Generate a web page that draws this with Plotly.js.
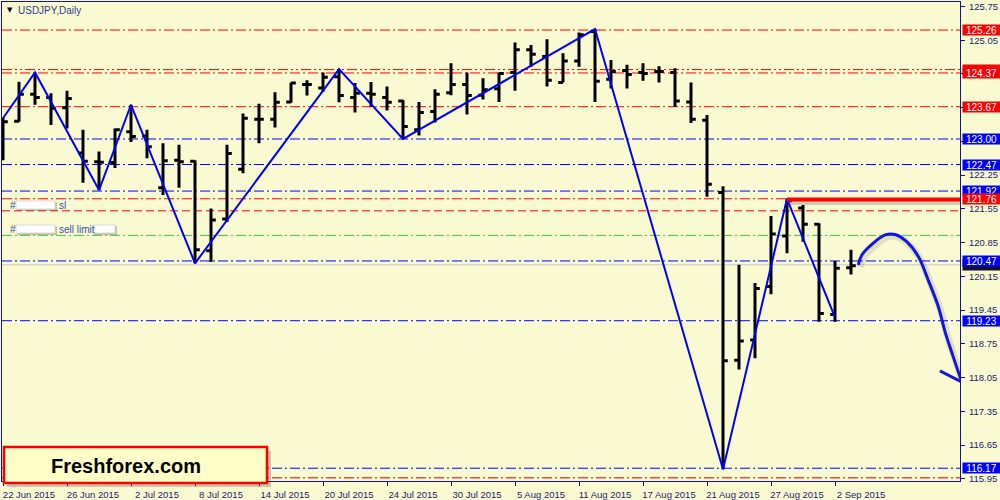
<!DOCTYPE html>
<html><head><meta charset="utf-8">
<script src="https://cdn.plot.ly/plotly-3.0.1.min.js"></script>
<style>html,body{margin:0;padding:0;background:#FAFAD2;}#chart{width:1000px;height:500px;}</style>
</head><body><div id="chart"></div>
<script>
// ---- data ----
const barDates = ['22 Jun 2015','23 Jun 2015','24 Jun 2015','25 Jun 2015','26 Jun 2015','29 Jun 2015','30 Jun 2015','1 Jul 2015','2 Jul 2015','3 Jul 2015',
 '6 Jul 2015','7 Jul 2015','8 Jul 2015','9 Jul 2015','10 Jul 2015','13 Jul 2015','14 Jul 2015','15 Jul 2015','16 Jul 2015','17 Jul 2015',
 '20 Jul 2015','21 Jul 2015','22 Jul 2015','23 Jul 2015','24 Jul 2015','27 Jul 2015','28 Jul 2015','29 Jul 2015','30 Jul 2015','31 Jul 2015',
 '3 Aug 2015','4 Aug 2015','5 Aug 2015','6 Aug 2015','7 Aug 2015','10 Aug 2015','11 Aug 2015','12 Aug 2015','13 Aug 2015','14 Aug 2015',
 '17 Aug 2015','18 Aug 2015','19 Aug 2015','20 Aug 2015','21 Aug 2015','24 Aug 2015','25 Aug 2015','26 Aug 2015','27 Aug 2015','28 Aug 2015',
 '31 Aug 2015','1 Sep 2015','2 Sep 2015','3 Sep 2015'];
const openP  = [122.80,123.37,123.93,123.86,123.65,122.71,122.53,122.51,123.15,123.06,
 121.99,122.56,122.54,120.68,121.34,122.37,123.41,123.41,123.77,124.13,
 124.06,124.29,123.86,123.95,123.86,123.79,123.19,123.57,123.96,124.13,
 123.91,124.04,124.38,124.85,124.71,124.17,124.62,125.23,124.24,124.42,
 124.38,124.40,124.38,123.77,123.39,121.89,118.41,118.83,119.94,120.99,
 121.57,121.23,119.36,120.33];
const highP  = [123.44,124.19,124.38,123.95,124.00,123.19,122.74,123.22,123.71,123.19,
 122.91,122.88,122.56,121.56,122.88,123.53,123.73,123.97,124.17,124.22,
 124.38,124.45,124.16,124.18,124.09,123.81,123.77,124.03,124.57,124.38,
 124.26,124.38,125.00,124.95,125.07,124.78,125.21,125.28,124.64,124.54,
 124.57,124.51,124.47,124.17,123.50,122.02,120.39,120.01,121.40,121.76,
 121.63,121.25,120.47,120.70];
const lowP   = [122.56,123.36,123.71,123.29,123.22,122.09,121.94,122.40,122.94,122.60,
 121.84,121.99,120.42,120.45,121.28,122.29,122.91,123.24,123.75,123.90,
 123.98,123.76,123.55,123.67,123.59,123.00,123.07,123.34,123.91,123.51,
 123.82,123.77,124.00,124.50,124.09,124.17,124.50,123.77,124.05,124.05,
 124.21,124.17,123.67,123.33,121.80,116.15,118.22,118.45,119.78,120.63,
 120.87,119.21,119.21,120.19];
const closeP = [123.36,123.93,123.86,123.64,123.84,122.54,122.52,123.19,123.05,122.84,
 122.55,122.53,120.70,121.32,122.70,123.43,123.41,123.76,124.16,124.13,
 124.28,123.90,123.95,123.93,123.76,123.26,123.55,123.93,124.13,123.90,
 124.02,124.36,124.85,124.76,124.22,124.62,125.16,124.20,124.40,124.34,
 124.36,124.40,123.79,123.41,122.06,118.40,118.81,119.90,121.03,121.72,
 121.23,119.38,120.32,120.37];
// zigzag (bar index, price)
const zigX = [0,2,6,8,12,21,25,37,45,49,52];
const zigY = [123.43,124.38,121.94,123.71,120.42,124.45,123.00,125.28,116.15,121.76,119.30];
// hand-drawn forecast arrow (bar index, price)
const arrowX = [53.46,53.67,54.39,55.13,55.75,56.48,57.21,57.83,58.46,58.88,59.39,59.92];
const arrowY = [120.39,120.59,120.84,121.01,121.02,120.87,120.56,120.07,119.52,119.00,118.48,117.96];
const arrowWingX = [58.56,59.92,60.23];
const arrowWingY = [118.19,117.96,118.48];
// horizontal levels
const levelPrice = [125.26,124.44,124.37,123.67,123.00,122.47,121.92,121.76,121.51,121.00,120.39,120.47,119.23,116.17,115.97];
const levelColor = ['#FF0000','#FF0000','#FF0000','#FF0000','#0000FF','#0000FF','#0000FF','#FF0000','#FF0000','#3CC83C','#C8C8C8','#0000FF','#0000FF','#0000FF','#CC0000'];
const levelStyle = ['dd','ddd','dd','dd','dd','dd','dd','dd','dash','dd','solid','dd','dd','dd','dd'];
const levelBox   = ['#FF0000','#FF0000','#FF0000','#FF0000','#0000FF','#0000FF','#0000FF','#FF0000',null,null,'#101028','#0000FF','#0000FF','#0000FF',null];
const levelBoxText = [true,false,true,true,true,true,true,true,false,false,false,true,true,true,false];
const resistanceLevel = 121.745;
const resistanceStart = 49;
// axis ticks
const xTickIdx = [0,4,8,12,16,20,24,28,32,36,40,44,48,52];
const yTicks = [125.75,125.05,124.35,123.65,122.95,122.25,121.55,120.85,120.15,119.45,118.75,118.05,117.35,116.65,115.95];
const yTickCovered = [false,false,true,true,true,false,false,false,false,false,false,false,false,false,false];

// ---- layout helpers ----
const W=1000,H=500,L=2,R=960,T=2,B=481;
const px = x => (x-L)/(R-L);
const py = y => (B-y)/(B-T);
const xRange=[-0.0625,59.8125];
const yRange=[115.905,125.842];
const navy='#14148C';
const dashes={dd:'10px,3px,2px,3px',ddd:'10px,3px,2px,3px,2px,3px',dash:'8px,4px',solid:'solid'};

const idx = barDates.map((d,i)=>i);
const traces=[
 {type:'ohlc',x:idx,open:openP,high:highP,low:lowP,close:closeP,tickwidth:0.3,
  increasing:{line:{color:'#000000',width:3}},decreasing:{line:{color:'#000000',width:3}},hoverinfo:'skip',showlegend:false},
 {type:'scatter',mode:'lines',x:zigX,y:zigY,line:{color:'#0000FF',width:2},hoverinfo:'skip',showlegend:false},
 {type:'scatter',mode:'lines',x:arrowX.map(v=>v+0.12),y:arrowY.map(v=>v-0.05),line:{color:'rgba(60,60,60,0.13)',width:7,shape:'spline'},hoverinfo:'skip',showlegend:false},
 {type:'scatter',mode:'lines',x:arrowX,y:arrowY,line:{color:'#1414E6',width:3,shape:'spline'},hoverinfo:'skip',showlegend:false},
 {type:'scatter',mode:'lines',x:arrowWingX,y:arrowWingY,line:{color:'#1414E6',width:3},hoverinfo:'skip',showlegend:false}
];

const shapes=[];
levelPrice.forEach((p,i)=>{
  shapes.push({type:'line',xref:'paper',x0:0,x1:1,yref:'y',y0:p,y1:p,layer:'below',
    line:{color:levelColor[i],width:1,dash:dashes[levelStyle[i]]}});
});
// resistance thick line with shadow
shapes.push({type:'line',xref:'x',x0:resistanceStart,x1:xRange[1],yref:'y',y0:resistanceLevel-0.05,y1:resistanceLevel-0.05,layer:'above',line:{color:'rgba(60,60,60,0.22)',width:6}});
shapes.push({type:'line',xref:'x',x0:resistanceStart,x1:xRange[1],yref:'y',y0:resistanceLevel,y1:resistanceLevel,layer:'above',line:{color:'#FF0000',width:4}});
// Freshforex box + shadow
shapes.push({type:'rect',xref:'paper',yref:'paper',x0:px(7),x1:px(271),y0:py(487),y1:py(451),fillcolor:'rgba(80,80,80,0.3)',line:{width:0},layer:'above'});
shapes.push({type:'rect',xref:'paper',yref:'paper',x0:px(4),x1:px(267),y0:py(483),y1:py(447),fillcolor:'#FFFFC8',line:{color:'#FF0000',width:2.5},layer:'above'});
// blurred name boxes
function blurBox(x0,x1,y0,y1){
  shapes.push({type:'rect',xref:'paper',yref:'paper',x0:px(x0+1),x1:px(x1+2),y0:py(y1+2),y1:py(y0+1),fillcolor:'rgba(90,90,90,0.35)',line:{width:0},layer:'above'});
  shapes.push({type:'rect',xref:'paper',yref:'paper',x0:px(x0),x1:px(x1),y0:py(y1),y1:py(y0),fillcolor:'#FFFFFF',line:{color:'#D8D8D8',width:1},layer:'above'});
}
blurBox(16,55,201,209);
blurBox(16,55,225,233);
blurBox(93,115,225,233);

const annotations=[];
// right axis price boxes
levelPrice.forEach((p,i)=>{
  if(!levelBox[i]) return;
  annotations.push({xref:'paper',x:px(961.5),xanchor:'left',yref:'y',y:p,yanchor:'middle',
    text:levelBoxText[i]?p.toFixed(2):' ',showarrow:false,bgcolor:levelBox[i],width:37,height:10,borderpad:0,
    font:{family:'Liberation Sans, Arial, sans-serif',size:10,color:'#FFFFFF'}});
});
const labFont={family:'Liberation Sans, Arial, sans-serif',size:10,color:'#3050B0'};
annotations.push({xref:'paper',yref:'paper',x:px(8),y:py(205),xanchor:'left',yanchor:'middle',text:'#',showarrow:false,font:labFont});
annotations.push({xref:'paper',yref:'paper',x:px(57),y:py(205),xanchor:'left',yanchor:'middle',text:'sl',showarrow:false,font:labFont});
annotations.push({xref:'paper',yref:'paper',x:px(8),y:py(229),xanchor:'left',yanchor:'middle',text:'#',showarrow:false,font:labFont});
annotations.push({xref:'paper',yref:'paper',x:px(57),y:py(229),xanchor:'left',yanchor:'middle',text:'sell limit',showarrow:false,font:labFont});
annotations.push({xref:'paper',yref:'paper',x:px(5),y:py(10),xanchor:'left',yanchor:'middle',text:'▼',showarrow:false,font:{family:'DejaVu Sans',size:7,color:'#000000'}});
annotations.push({xref:'paper',yref:'paper',x:px(16),y:py(11),xanchor:'left',yanchor:'middle',text:'USDJPY,Daily',showarrow:false,font:{family:'Liberation Sans, Arial, sans-serif',size:10,color:'#2B3A8C'}});
annotations.push({xref:'paper',yref:'paper',x:px(126),y:py(466),xanchor:'center',yanchor:'middle',text:'<b>Freshforex.com</b>',showarrow:false,font:{family:'Liberation Sans, Arial, sans-serif',size:20,color:'#000000'}});

const axFont={family:'Liberation Sans, Arial, sans-serif',size:9.5,color:'#1A1A70'};
const layout={
  width:W,height:H,margin:{l:L,r:W-R,t:T,b:H-B,pad:0},
  paper_bgcolor:'#FAFAD2',plot_bgcolor:'#FAFAD2',showlegend:false,
  xaxis:{type:'linear',range:xRange,tickmode:'array',tickvals:xTickIdx,ticktext:xTickIdx.map(i=>barDates[i]),
    ticks:'outside',ticklen:4,tickcolor:navy,showline:true,linecolor:navy,linewidth:1,mirror:true,
    showgrid:false,zeroline:false,tickfont:axFont,ticklabelshift:26,ticklabelstandoff:1,rangeslider:{visible:false},fixedrange:true},
  yaxis:{side:'right',range:yRange,tickmode:'array',tickvals:yTicks,ticktext:yTicks.map((v,i)=>yTickCovered[i]?'':v.toFixed(2)),
    ticks:'outside',ticklen:4,tickcolor:navy,showline:true,linecolor:navy,linewidth:1,mirror:true,
    showgrid:false,zeroline:false,tickfont:axFont,ticklabelstandoff:2,fixedrange:true},
  shapes:shapes,annotations:annotations
};
Plotly.newPlot('chart',traces,layout,{staticPlot:true,displayModeBar:false});
</script></body></html>
